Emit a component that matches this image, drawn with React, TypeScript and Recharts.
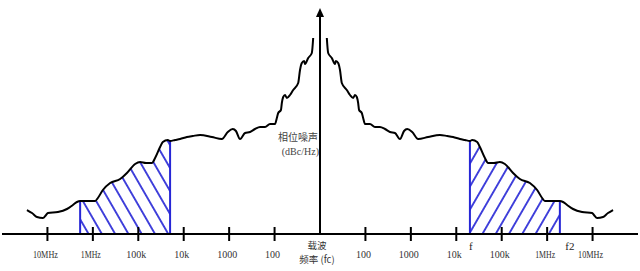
import { Area, ComposedChart, Line, ReferenceLine, XAxis, YAxis } from "recharts";

// offset from the carrier in decades (1 = 100 Hz ... 6 = 10 MHz)
const offsets = [
  0.15, 0.18, 0.26, 0.33, 0.35, 0.4, 0.44, 0.48, 0.59, 0.66,
  0.73, 0.77, 0.81, 0.84, 0.86, 0.92, 0.95, 0.99, 1.1, 1.21,
  1.32, 1.43, 1.54, 1.65, 1.76, 1.85, 1.92, 2.03, 2.16, 2.38,
  2.64, 2.8, 2.93, 3.08, 3.19, 3.3, 3.35, 3.46, 3.52, 3.63,
  3.7, 3.83, 3.96, 4.07, 4.25, 4.4, 4.62, 4.78, 4.89, 4.95,
  5.28, 5.35, 5.44, 5.57, 5.77, 5.99, 6.03, 6.1, 6.23, 6.34,
  6.45,
];
// phase noise in dBc/Hz (same on both sidebands)
const noise = [
  -62, -69.5, -72, -75, -73.5, -74.5, -78, -84.5, -88, -90.5,
  -92, -90.5, -91.5, -94.5, -98, -99.5, -102, -105, -105, -106.5,
  -106.5, -107.5, -109, -109.5, -112.5, -108.5, -107.5, -109, -112.5, -111.5,
  -110.5, -111, -111.5, -112.5, -113, -113.5, -113, -114, -116.5, -122,
  -124.5, -124.5, -124, -125, -129.5, -132.5, -134.5, -138, -142, -143.5,
  -143.5, -144, -145.5, -147.5, -149, -149.5, -150.5, -152, -151.5, -149.5,
  -148,
];

const tickValues = [-6, -5, -4, -3, -2, -1, 1, 2, 3, 4, 5, 6];
const tickLabels = ["10MHz", "1MHz", "100k", "10k", "1000", "100", "100", "1000", "10k", "100k", "1MHz", "10MHz"];

// integration band f .. f2
const bandEdges = [3.3, 5.28];
const bandLabels = ["f", "f2"];

const BLUE = "#2626d6";
const SERIF = "'Liberation Serif', 'Times New Roman', serif";
const CJK = "'Noto Sans CJK SC', sans-serif";

const inBand = (o: number) => o >= bandEdges[0] - 1e-9 && o <= bandEdges[1] + 1e-9;

const upper = offsets.map((o, i) => ({ x: o, noise: noise[i], hatchR: inBand(o) ? noise[i] : null }));
const lower = offsets
  .map((o, i) => ({ x: -o, noise: noise[i], hatchL: inBand(o) ? noise[i] : null }))
  .reverse();
const chartData = [...lower, { x: 0, noise: null }, ...upper];

const edgeNoise = bandEdges.map((e) => noise[offsets.indexOf(e)]);
const FLOOR = -160;

function AxisTick(props: any) {
  const { x, y, payload } = props;
  const v = payload.value;
  const i = tickValues.indexOf(v);
  if (i >= 0) {
    const label = tickLabels[i];
    return (
      <g>
        <line x1={x} x2={x} y1={y - 7} y2={y + 7} stroke="#000" strokeWidth={2} />
        <text
          x={x - 2}
          y={y + 24}
          textAnchor="middle"
          fontFamily={SERIF}
          fontSize={10}
          fill="#333"
          textLength={label.length * 5}
          lengthAdjust="spacingAndGlyphs"
        >
          {label}
        </text>
      </g>
    );
  }
  const m = bandEdges.findIndex((e) => Math.abs(e - Math.abs(v)) < 1e-6);
  if (m >= 0) {
    return (
      <text x={m === 0 ? x + 1 : x + 10} y={y + 16} textAnchor="middle" fontFamily={SERIF} fontSize={11} fill="#222">
        {bandLabels[m]}
      </text>
    );
  }
  if (v === 0) {
    return (
      <g fontSize={9.5} fill="#333" fontFamily={CJK}>
        <text x={x - 3} y={y + 15} textAnchor="middle">载波</text>
        <text x={x - 3} y={y + 29} textAnchor="middle">频率 (fc)</text>
      </g>
    );
  }
  return null;
}

function ArrowAxis(props: any) {
  const { x1, y1, y2 } = props;
  const top = Math.min(y1, y2);
  const bottom = Math.max(y1, y2);
  return (
    <g>
      <line x1={x1} x2={x1} y1={bottom} y2={top + 6} stroke="#000" strokeWidth={2} />
      <polygon points={`${x1},${top} ${x1 - 4},${top + 9} ${x1 + 4},${top + 9}`} fill="#000" />
      <text x={x1 - 2} y={top + 133} textAnchor="end" fontFamily={CJK} fontSize={10} fill="#444">
        相位噪声
      </text>
      <text x={x1 - 1} y={top + 147} textAnchor="end" fontFamily={SERIF} fontSize={10} fill="#444">
        (dBc/Hz)
      </text>
    </g>
  );
}

export default function App() {
  return (
    <div style={{ position: "absolute", left: 0, top: 0, width: 640, height: 271, background: "#fff" }}>
      <ComposedChart width={640} height={271} data={chartData} margin={{ top: 8, right: 2, bottom: 0, left: 2 }}>
        <defs>
          <pattern id="hatchL" patternUnits="userSpaceOnUse" width={11.5} height={12} patternTransform="rotate(-30)">
            <line x1={5.75} y1={0} x2={5.75} y2={12} stroke={BLUE} strokeWidth={1.7} />
          </pattern>
          <pattern id="hatchR" patternUnits="userSpaceOnUse" width={11.5} height={12} patternTransform="rotate(30)">
            <line x1={5.75} y1={0} x2={5.75} y2={12} stroke={BLUE} strokeWidth={1.7} />
          </pattern>
        </defs>
        <XAxis
          type="number"
          dataKey="x"
          domain={[-7, 7]}
          ticks={[...tickValues, 0, ...bandEdges]}
          interval={0}
          height={37}
          tickLine={false}
          tickSize={0}
          tickMargin={0}
          axisLine={{ stroke: "#000", strokeWidth: 2 }}
          tick={<AxisTick />}
        />
        <YAxis hide type="number" domain={[FLOOR, -47]} allowDataOverflow />
        <Area
          dataKey="hatchL"
          type="monotone"
          stroke="none"
          fill="url(#hatchL)"
          fillOpacity={1}
          baseValue={FLOOR}
          isAnimationActive={false}
        />
        <Area
          dataKey="hatchR"
          type="monotone"
          stroke="none"
          fill="url(#hatchR)"
          fillOpacity={1}
          baseValue={FLOOR}
          isAnimationActive={false}
        />
        {bandEdges.map((e, i) => (
          <ReferenceLine
            key={"l" + i}
            segment={[{ x: -e, y: FLOOR }, { x: -e, y: edgeNoise[i] }]}
            stroke={BLUE}
            strokeWidth={2}
          />
        ))}
        {bandEdges.map((e, i) => (
          <ReferenceLine
            key={"r" + i}
            segment={[{ x: e, y: FLOOR }, { x: e, y: edgeNoise[i] }]}
            stroke={BLUE}
            strokeWidth={2}
          />
        ))}
        <ReferenceLine x={0} shape={<ArrowAxis />} />
        <Line
          dataKey="noise"
          type="monotone"
          stroke="#000"
          strokeWidth={2}
          dot={false}
          activeDot={false}
          isAnimationActive={false}
        />
      </ComposedChart>
    </div>
  );
}
